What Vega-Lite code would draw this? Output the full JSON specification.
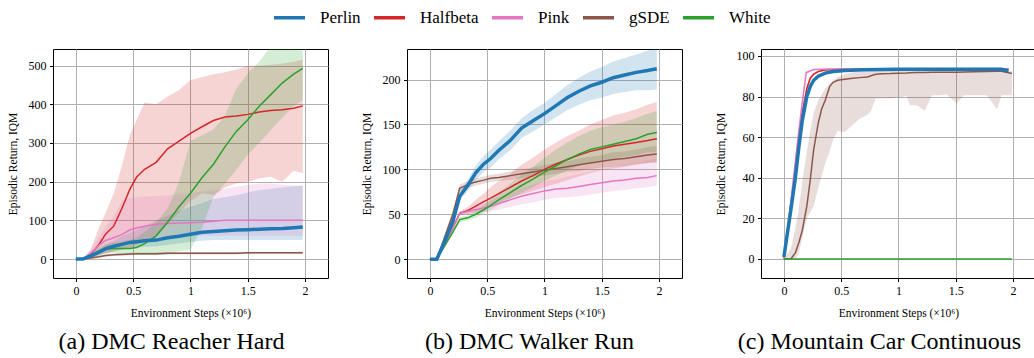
{
"$schema": "https://vega.github.io/schema/vega-lite/v6.json",
"padding": {"left": 6, "top": 0, "right": 0, "bottom": 0},
"config": {
 "font": "Liberation Serif",
 "view": {"stroke": "black", "strokeWidth": 1},
 "axis": {"grid": true, "gridColor": "#b0b0b0", "gridWidth": 1, "domain": false, "tickColor": "black", "tickSize": 3.5, "labelFontSize": 12, "labelColor": "black", "labelFont": "Liberation Serif", "labelPadding": 3.5, "titleFontSize": 11.5, "titleFontWeight": "normal", "titleColor": "black", "titleFont": "Liberation Serif", "titlePadding": 10},
 "axisX": {"titlePadding": 11},
 "title": {"font": "Liberation Serif", "fontSize": 24, "fontWeight": "normal", "color": "black"}
},
"datasets": {"d": [
{"p":"a","m":"Perlin","x":0,"y":0,"lo":0,"hi":0},
{"p":"a","m":"Perlin","x":0.06,"y":0,"lo":0,"hi":0},
{"p":"a","m":"Perlin","x":0.13,"y":8,"lo":3,"hi":12},
{"p":"a","m":"Perlin","x":0.2,"y":18,"lo":10,"hi":25},
{"p":"a","m":"Perlin","x":0.26,"y":27,"lo":15,"hi":37},
{"p":"a","m":"Perlin","x":0.33,"y":33,"lo":20,"hi":47},
{"p":"a","m":"Perlin","x":0.4,"y":38,"lo":24,"hi":58},
{"p":"a","m":"Perlin","x":0.47,"y":43,"lo":28,"hi":68},
{"p":"a","m":"Perlin","x":0.53,"y":45,"lo":30,"hi":75},
{"p":"a","m":"Perlin","x":0.6,"y":47,"lo":32,"hi":85},
{"p":"a","m":"Perlin","x":0.7,"y":49,"lo":33,"hi":100},
{"p":"a","m":"Perlin","x":0.8,"y":55,"lo":36,"hi":112},
{"p":"a","m":"Perlin","x":0.9,"y":59,"lo":40,"hi":125},
{"p":"a","m":"Perlin","x":1.0,"y":64,"lo":44,"hi":135},
{"p":"a","m":"Perlin","x":1.1,"y":69,"lo":47,"hi":145},
{"p":"a","m":"Perlin","x":1.2,"y":71,"lo":49,"hi":155},
{"p":"a","m":"Perlin","x":1.3,"y":73,"lo":49,"hi":160},
{"p":"a","m":"Perlin","x":1.4,"y":75,"lo":49,"hi":165},
{"p":"a","m":"Perlin","x":1.5,"y":76,"lo":49,"hi":172},
{"p":"a","m":"Perlin","x":1.6,"y":77,"lo":49,"hi":178},
{"p":"a","m":"Perlin","x":1.7,"y":78,"lo":49,"hi":182},
{"p":"a","m":"Perlin","x":1.8,"y":79,"lo":49,"hi":185},
{"p":"a","m":"Perlin","x":1.9,"y":81,"lo":49,"hi":188},
{"p":"a","m":"Perlin","x":1.98,"y":83,"lo":49,"hi":190},
{"p":"a","m":"Halfbeta","x":0,"y":0,"lo":0,"hi":0},
{"p":"a","m":"Halfbeta","x":0.06,"y":0,"lo":0,"hi":0},
{"p":"a","m":"Halfbeta","x":0.13,"y":12,"lo":3,"hi":25},
{"p":"a","m":"Halfbeta","x":0.2,"y":37,"lo":10,"hi":80},
{"p":"a","m":"Halfbeta","x":0.26,"y":65,"lo":15,"hi":120},
{"p":"a","m":"Halfbeta","x":0.33,"y":85,"lo":20,"hi":170},
{"p":"a","m":"Halfbeta","x":0.4,"y":130,"lo":25,"hi":240},
{"p":"a","m":"Halfbeta","x":0.47,"y":180,"lo":30,"hi":320},
{"p":"a","m":"Halfbeta","x":0.53,"y":212,"lo":35,"hi":360},
{"p":"a","m":"Halfbeta","x":0.6,"y":232,"lo":45,"hi":405},
{"p":"a","m":"Halfbeta","x":0.7,"y":250,"lo":60,"hi":400},
{"p":"a","m":"Halfbeta","x":0.8,"y":285,"lo":90,"hi":420},
{"p":"a","m":"Halfbeta","x":0.9,"y":305,"lo":120,"hi":437},
{"p":"a","m":"Halfbeta","x":1.0,"y":325,"lo":150,"hi":463},
{"p":"a","m":"Halfbeta","x":1.1,"y":342,"lo":170,"hi":470},
{"p":"a","m":"Halfbeta","x":1.2,"y":358,"lo":165,"hi":478},
{"p":"a","m":"Halfbeta","x":1.3,"y":367,"lo":185,"hi":483},
{"p":"a","m":"Halfbeta","x":1.4,"y":370,"lo":195,"hi":490},
{"p":"a","m":"Halfbeta","x":1.5,"y":374,"lo":200,"hi":500},
{"p":"a","m":"Halfbeta","x":1.6,"y":380,"lo":208,"hi":500},
{"p":"a","m":"Halfbeta","x":1.7,"y":384,"lo":213,"hi":502},
{"p":"a","m":"Halfbeta","x":1.8,"y":386,"lo":200,"hi":505},
{"p":"a","m":"Halfbeta","x":1.9,"y":390,"lo":228,"hi":510},
{"p":"a","m":"Halfbeta","x":1.98,"y":396,"lo":222,"hi":515},
{"p":"a","m":"Pink","x":0,"y":0,"lo":0,"hi":0},
{"p":"a","m":"Pink","x":0.06,"y":0,"lo":0,"hi":0},
{"p":"a","m":"Pink","x":0.13,"y":15,"lo":5,"hi":25},
{"p":"a","m":"Pink","x":0.2,"y":35,"lo":15,"hi":55},
{"p":"a","m":"Pink","x":0.26,"y":48,"lo":25,"hi":85},
{"p":"a","m":"Pink","x":0.33,"y":55,"lo":32,"hi":110},
{"p":"a","m":"Pink","x":0.4,"y":63,"lo":38,"hi":150},
{"p":"a","m":"Pink","x":0.47,"y":75,"lo":42,"hi":158},
{"p":"a","m":"Pink","x":0.53,"y":80,"lo":45,"hi":160},
{"p":"a","m":"Pink","x":0.6,"y":85,"lo":50,"hi":162},
{"p":"a","m":"Pink","x":0.7,"y":90,"lo":55,"hi":163},
{"p":"a","m":"Pink","x":0.8,"y":92,"lo":58,"hi":165},
{"p":"a","m":"Pink","x":0.9,"y":93,"lo":60,"hi":168},
{"p":"a","m":"Pink","x":1.0,"y":94,"lo":60,"hi":170},
{"p":"a","m":"Pink","x":1.1,"y":95,"lo":60,"hi":175},
{"p":"a","m":"Pink","x":1.2,"y":98,"lo":60,"hi":178},
{"p":"a","m":"Pink","x":1.3,"y":100,"lo":60,"hi":182},
{"p":"a","m":"Pink","x":1.4,"y":100,"lo":60,"hi":187},
{"p":"a","m":"Pink","x":1.5,"y":100,"lo":60,"hi":192},
{"p":"a","m":"Pink","x":1.6,"y":100,"lo":60,"hi":195},
{"p":"a","m":"Pink","x":1.7,"y":100,"lo":60,"hi":195},
{"p":"a","m":"Pink","x":1.8,"y":100,"lo":60,"hi":192},
{"p":"a","m":"Pink","x":1.9,"y":100,"lo":60,"hi":190},
{"p":"a","m":"Pink","x":1.98,"y":100,"lo":60,"hi":188},
{"p":"a","m":"gSDE","x":0,"y":0,"lo":0,"hi":0},
{"p":"a","m":"gSDE","x":0.06,"y":0,"lo":0,"hi":0},
{"p":"a","m":"gSDE","x":0.13,"y":3,"lo":1,"hi":5},
{"p":"a","m":"gSDE","x":0.2,"y":6,"lo":3,"hi":9},
{"p":"a","m":"gSDE","x":0.26,"y":9,"lo":6,"hi":12},
{"p":"a","m":"gSDE","x":0.33,"y":11,"lo":8,"hi":14},
{"p":"a","m":"gSDE","x":0.4,"y":12,"lo":9,"hi":15},
{"p":"a","m":"gSDE","x":0.47,"y":13,"lo":10,"hi":16},
{"p":"a","m":"gSDE","x":0.53,"y":14,"lo":11,"hi":17},
{"p":"a","m":"gSDE","x":0.6,"y":14,"lo":11,"hi":17},
{"p":"a","m":"gSDE","x":0.7,"y":14,"lo":11,"hi":17},
{"p":"a","m":"gSDE","x":0.8,"y":15,"lo":12,"hi":18},
{"p":"a","m":"gSDE","x":1.0,"y":15,"lo":12,"hi":18},
{"p":"a","m":"gSDE","x":1.4,"y":15,"lo":12,"hi":18},
{"p":"a","m":"gSDE","x":1.5,"y":16,"lo":13,"hi":19},
{"p":"a","m":"gSDE","x":1.98,"y":16,"lo":13,"hi":19},
{"p":"a","m":"White","x":0,"y":0,"lo":0,"hi":0},
{"p":"a","m":"White","x":0.06,"y":0,"lo":0,"hi":0},
{"p":"a","m":"White","x":0.13,"y":10,"lo":3,"hi":18},
{"p":"a","m":"White","x":0.2,"y":18,"lo":10,"hi":30},
{"p":"a","m":"White","x":0.26,"y":25,"lo":15,"hi":38},
{"p":"a","m":"White","x":0.33,"y":27,"lo":15,"hi":42},
{"p":"a","m":"White","x":0.4,"y":27,"lo":12,"hi":45},
{"p":"a","m":"White","x":0.47,"y":27,"lo":10,"hi":50},
{"p":"a","m":"White","x":0.53,"y":30,"lo":10,"hi":55},
{"p":"a","m":"White","x":0.6,"y":40,"lo":10,"hi":70},
{"p":"a","m":"White","x":0.7,"y":60,"lo":10,"hi":95},
{"p":"a","m":"White","x":0.8,"y":95,"lo":12,"hi":130},
{"p":"a","m":"White","x":0.9,"y":135,"lo":20,"hi":200},
{"p":"a","m":"White","x":1.0,"y":170,"lo":25,"hi":305},
{"p":"a","m":"White","x":1.1,"y":210,"lo":80,"hi":320},
{"p":"a","m":"White","x":1.2,"y":245,"lo":160,"hi":335},
{"p":"a","m":"White","x":1.3,"y":290,"lo":195,"hi":370},
{"p":"a","m":"White","x":1.4,"y":330,"lo":230,"hi":440},
{"p":"a","m":"White","x":1.5,"y":360,"lo":270,"hi":480},
{"p":"a","m":"White","x":1.6,"y":395,"lo":300,"hi":510},
{"p":"a","m":"White","x":1.7,"y":425,"lo":333,"hi":550},
{"p":"a","m":"White","x":1.8,"y":455,"lo":365,"hi":580},
{"p":"a","m":"White","x":1.9,"y":478,"lo":395,"hi":600},
{"p":"a","m":"White","x":1.98,"y":493,"lo":411,"hi":610},
{"p":"b","m":"Perlin","x":0,"y":0,"lo":0,"hi":0},
{"p":"b","m":"Perlin","x":0.06,"y":0,"lo":0,"hi":0},
{"p":"b","m":"Perlin","x":0.13,"y":20,"lo":18,"hi":22},
{"p":"b","m":"Perlin","x":0.2,"y":42,"lo":38,"hi":46},
{"p":"b","m":"Perlin","x":0.26,"y":70,"lo":65,"hi":75},
{"p":"b","m":"Perlin","x":0.33,"y":82,"lo":76,"hi":88},
{"p":"b","m":"Perlin","x":0.4,"y":96,"lo":88,"hi":104},
{"p":"b","m":"Perlin","x":0.47,"y":106,"lo":97,"hi":115},
{"p":"b","m":"Perlin","x":0.53,"y":112,"lo":102,"hi":122},
{"p":"b","m":"Perlin","x":0.6,"y":121,"lo":111,"hi":131},
{"p":"b","m":"Perlin","x":0.7,"y":132,"lo":121,"hi":143},
{"p":"b","m":"Perlin","x":0.8,"y":146,"lo":135,"hi":157},
{"p":"b","m":"Perlin","x":0.9,"y":154,"lo":142,"hi":166},
{"p":"b","m":"Perlin","x":1.0,"y":162,"lo":150,"hi":174},
{"p":"b","m":"Perlin","x":1.1,"y":171,"lo":158,"hi":184},
{"p":"b","m":"Perlin","x":1.2,"y":180,"lo":166,"hi":194},
{"p":"b","m":"Perlin","x":1.3,"y":187,"lo":172,"hi":202},
{"p":"b","m":"Perlin","x":1.4,"y":193,"lo":177,"hi":209},
{"p":"b","m":"Perlin","x":1.5,"y":197,"lo":180,"hi":214},
{"p":"b","m":"Perlin","x":1.6,"y":202,"lo":184,"hi":220},
{"p":"b","m":"Perlin","x":1.7,"y":205,"lo":186,"hi":224},
{"p":"b","m":"Perlin","x":1.8,"y":208,"lo":188,"hi":228},
{"p":"b","m":"Perlin","x":1.9,"y":210,"lo":188,"hi":232},
{"p":"b","m":"Perlin","x":1.98,"y":212,"lo":189,"hi":235},
{"p":"b","m":"Halfbeta","x":0,"y":0,"lo":0,"hi":0},
{"p":"b","m":"Halfbeta","x":0.06,"y":0,"lo":0,"hi":0},
{"p":"b","m":"Halfbeta","x":0.13,"y":17,"lo":15,"hi":19},
{"p":"b","m":"Halfbeta","x":0.2,"y":35,"lo":32,"hi":38},
{"p":"b","m":"Halfbeta","x":0.26,"y":51,"lo":49,"hi":53},
{"p":"b","m":"Halfbeta","x":0.33,"y":54,"lo":50,"hi":58},
{"p":"b","m":"Halfbeta","x":0.4,"y":59,"lo":52,"hi":66},
{"p":"b","m":"Halfbeta","x":0.47,"y":64,"lo":56,"hi":73},
{"p":"b","m":"Halfbeta","x":0.53,"y":68,"lo":60,"hi":80},
{"p":"b","m":"Halfbeta","x":0.6,"y":73,"lo":63,"hi":87},
{"p":"b","m":"Halfbeta","x":0.7,"y":80,"lo":68,"hi":95},
{"p":"b","m":"Halfbeta","x":0.8,"y":87,"lo":72,"hi":105},
{"p":"b","m":"Halfbeta","x":0.9,"y":93,"lo":76,"hi":113},
{"p":"b","m":"Halfbeta","x":1.0,"y":100,"lo":80,"hi":122},
{"p":"b","m":"Halfbeta","x":1.1,"y":106,"lo":84,"hi":130},
{"p":"b","m":"Halfbeta","x":1.2,"y":111,"lo":88,"hi":137},
{"p":"b","m":"Halfbeta","x":1.3,"y":116,"lo":92,"hi":143},
{"p":"b","m":"Halfbeta","x":1.4,"y":120,"lo":96,"hi":150},
{"p":"b","m":"Halfbeta","x":1.5,"y":123,"lo":99,"hi":155},
{"p":"b","m":"Halfbeta","x":1.6,"y":126,"lo":101,"hi":160},
{"p":"b","m":"Halfbeta","x":1.7,"y":128,"lo":103,"hi":163},
{"p":"b","m":"Halfbeta","x":1.8,"y":130,"lo":105,"hi":167},
{"p":"b","m":"Halfbeta","x":1.9,"y":132,"lo":107,"hi":172},
{"p":"b","m":"Halfbeta","x":1.98,"y":134,"lo":108,"hi":175},
{"p":"b","m":"Pink","x":0,"y":0,"lo":0,"hi":0},
{"p":"b","m":"Pink","x":0.06,"y":0,"lo":0,"hi":0},
{"p":"b","m":"Pink","x":0.13,"y":17,"lo":16,"hi":18},
{"p":"b","m":"Pink","x":0.2,"y":35,"lo":33,"hi":37},
{"p":"b","m":"Pink","x":0.26,"y":51,"lo":49,"hi":53},
{"p":"b","m":"Pink","x":0.33,"y":53,"lo":50,"hi":56},
{"p":"b","m":"Pink","x":0.4,"y":55,"lo":51,"hi":59},
{"p":"b","m":"Pink","x":0.47,"y":57,"lo":52,"hi":62},
{"p":"b","m":"Pink","x":0.53,"y":59,"lo":53,"hi":65},
{"p":"b","m":"Pink","x":0.6,"y":62,"lo":55,"hi":69},
{"p":"b","m":"Pink","x":0.7,"y":66,"lo":58,"hi":74},
{"p":"b","m":"Pink","x":0.8,"y":70,"lo":61,"hi":79},
{"p":"b","m":"Pink","x":0.9,"y":73,"lo":63,"hi":83},
{"p":"b","m":"Pink","x":1.0,"y":76,"lo":66,"hi":87},
{"p":"b","m":"Pink","x":1.1,"y":78,"lo":68,"hi":89},
{"p":"b","m":"Pink","x":1.2,"y":79,"lo":69,"hi":92},
{"p":"b","m":"Pink","x":1.3,"y":81,"lo":70,"hi":95},
{"p":"b","m":"Pink","x":1.4,"y":83,"lo":72,"hi":98},
{"p":"b","m":"Pink","x":1.5,"y":85,"lo":74,"hi":100},
{"p":"b","m":"Pink","x":1.6,"y":87,"lo":76,"hi":103},
{"p":"b","m":"Pink","x":1.7,"y":88,"lo":77,"hi":105},
{"p":"b","m":"Pink","x":1.8,"y":90,"lo":79,"hi":107},
{"p":"b","m":"Pink","x":1.9,"y":91,"lo":80,"hi":110},
{"p":"b","m":"Pink","x":1.98,"y":93,"lo":82,"hi":112},
{"p":"b","m":"gSDE","x":0,"y":0,"lo":0,"hi":0},
{"p":"b","m":"gSDE","x":0.06,"y":0,"lo":0,"hi":0},
{"p":"b","m":"gSDE","x":0.13,"y":25,"lo":22,"hi":28},
{"p":"b","m":"gSDE","x":0.2,"y":50,"lo":46,"hi":54},
{"p":"b","m":"gSDE","x":0.26,"y":79,"lo":75,"hi":83},
{"p":"b","m":"gSDE","x":0.33,"y":83,"lo":79,"hi":87},
{"p":"b","m":"gSDE","x":0.4,"y":86,"lo":82,"hi":90},
{"p":"b","m":"gSDE","x":0.47,"y":88,"lo":84,"hi":92},
{"p":"b","m":"gSDE","x":0.53,"y":90,"lo":86,"hi":94},
{"p":"b","m":"gSDE","x":0.6,"y":91,"lo":87,"hi":95},
{"p":"b","m":"gSDE","x":0.7,"y":93,"lo":88,"hi":98},
{"p":"b","m":"gSDE","x":0.8,"y":95,"lo":90,"hi":100},
{"p":"b","m":"gSDE","x":0.9,"y":97,"lo":92,"hi":102},
{"p":"b","m":"gSDE","x":1.0,"y":99,"lo":93,"hi":105},
{"p":"b","m":"gSDE","x":1.1,"y":101,"lo":95,"hi":107},
{"p":"b","m":"gSDE","x":1.2,"y":103,"lo":97,"hi":109},
{"p":"b","m":"gSDE","x":1.3,"y":105,"lo":98,"hi":112},
{"p":"b","m":"gSDE","x":1.4,"y":107,"lo":100,"hi":114},
{"p":"b","m":"gSDE","x":1.5,"y":109,"lo":102,"hi":116},
{"p":"b","m":"gSDE","x":1.6,"y":111,"lo":103,"hi":119},
{"p":"b","m":"gSDE","x":1.7,"y":112,"lo":104,"hi":120},
{"p":"b","m":"gSDE","x":1.8,"y":114,"lo":106,"hi":122},
{"p":"b","m":"gSDE","x":1.9,"y":116,"lo":107,"hi":125},
{"p":"b","m":"gSDE","x":1.98,"y":117,"lo":108,"hi":126},
{"p":"b","m":"White","x":0,"y":0,"lo":0,"hi":0},
{"p":"b","m":"White","x":0.06,"y":0,"lo":0,"hi":0},
{"p":"b","m":"White","x":0.13,"y":15,"lo":13,"hi":17},
{"p":"b","m":"White","x":0.2,"y":30,"lo":28,"hi":32},
{"p":"b","m":"White","x":0.26,"y":44,"lo":41,"hi":47},
{"p":"b","m":"White","x":0.33,"y":46,"lo":43,"hi":49},
{"p":"b","m":"White","x":0.4,"y":50,"lo":46,"hi":54},
{"p":"b","m":"White","x":0.47,"y":55,"lo":51,"hi":60},
{"p":"b","m":"White","x":0.53,"y":60,"lo":55,"hi":66},
{"p":"b","m":"White","x":0.6,"y":66,"lo":60,"hi":74},
{"p":"b","m":"White","x":0.7,"y":74,"lo":67,"hi":84},
{"p":"b","m":"White","x":0.8,"y":82,"lo":74,"hi":94},
{"p":"b","m":"White","x":0.9,"y":89,"lo":80,"hi":103},
{"p":"b","m":"White","x":1.0,"y":97,"lo":87,"hi":113},
{"p":"b","m":"White","x":1.1,"y":104,"lo":93,"hi":122},
{"p":"b","m":"White","x":1.2,"y":111,"lo":99,"hi":130},
{"p":"b","m":"White","x":1.3,"y":117,"lo":104,"hi":137},
{"p":"b","m":"White","x":1.4,"y":122,"lo":108,"hi":143},
{"p":"b","m":"White","x":1.5,"y":125,"lo":110,"hi":147},
{"p":"b","m":"White","x":1.6,"y":128,"lo":112,"hi":150},
{"p":"b","m":"White","x":1.7,"y":131,"lo":114,"hi":153},
{"p":"b","m":"White","x":1.8,"y":134,"lo":116,"hi":157},
{"p":"b","m":"White","x":1.9,"y":139,"lo":119,"hi":162},
{"p":"b","m":"White","x":1.98,"y":141,"lo":119,"hi":165},
{"p":"c","m":"Perlin","x":0,"y":1,"lo":0,"hi":1.5},
{"p":"c","m":"Perlin","x":0.06,"y":24,"lo":21,"hi":27},
{"p":"c","m":"Perlin","x":0.1,"y":40,"lo":37,"hi":43},
{"p":"c","m":"Perlin","x":0.13,"y":55,"lo":52,"hi":58},
{"p":"c","m":"Perlin","x":0.16,"y":68,"lo":65,"hi":71},
{"p":"c","m":"Perlin","x":0.2,"y":80,"lo":78,"hi":82},
{"p":"c","m":"Perlin","x":0.23,"y":85,"lo":83,"hi":87},
{"p":"c","m":"Perlin","x":0.26,"y":88,"lo":87,"hi":89},
{"p":"c","m":"Perlin","x":0.3,"y":90,"lo":89,"hi":91},
{"p":"c","m":"Perlin","x":0.36,"y":91.5,"lo":91,"hi":92},
{"p":"c","m":"Perlin","x":0.43,"y":92.3,"lo":92,"hi":92.6},
{"p":"c","m":"Perlin","x":0.53,"y":92.8,"lo":92.5,"hi":93},
{"p":"c","m":"Perlin","x":0.7,"y":93.2,"lo":93,"hi":93.4},
{"p":"c","m":"Perlin","x":1.0,"y":93.4,"lo":93.2,"hi":93.6},
{"p":"c","m":"Perlin","x":1.5,"y":93.4,"lo":93.2,"hi":93.6},
{"p":"c","m":"Perlin","x":1.9,"y":93.4,"lo":93.2,"hi":93.6},
{"p":"c","m":"Perlin","x":1.96,"y":92.6,"lo":92.3,"hi":92.9},
{"p":"c","m":"Halfbeta","x":0,"y":0,"lo":0,"hi":0.5},
{"p":"c","m":"Halfbeta","x":0.06,"y":25,"lo":23,"hi":27},
{"p":"c","m":"Halfbeta","x":0.1,"y":45,"lo":43,"hi":47},
{"p":"c","m":"Halfbeta","x":0.13,"y":60,"lo":58,"hi":62},
{"p":"c","m":"Halfbeta","x":0.16,"y":72,"lo":70,"hi":74},
{"p":"c","m":"Halfbeta","x":0.2,"y":84,"lo":82,"hi":86},
{"p":"c","m":"Halfbeta","x":0.23,"y":89,"lo":88,"hi":90},
{"p":"c","m":"Halfbeta","x":0.26,"y":91,"lo":90.5,"hi":91.5},
{"p":"c","m":"Halfbeta","x":0.3,"y":92.3,"lo":92,"hi":92.6},
{"p":"c","m":"Halfbeta","x":0.36,"y":93,"lo":92.8,"hi":93.2},
{"p":"c","m":"Halfbeta","x":0.5,"y":93.4,"lo":93.2,"hi":93.6},
{"p":"c","m":"Halfbeta","x":1.0,"y":93.5,"lo":93.3,"hi":93.7},
{"p":"c","m":"Halfbeta","x":1.96,"y":93.5,"lo":93.3,"hi":93.7},
{"p":"c","m":"Pink","x":0,"y":0,"lo":0,"hi":0.5},
{"p":"c","m":"Pink","x":0.06,"y":28,"lo":26,"hi":30},
{"p":"c","m":"Pink","x":0.1,"y":48,"lo":46,"hi":50},
{"p":"c","m":"Pink","x":0.13,"y":63,"lo":61,"hi":65},
{"p":"c","m":"Pink","x":0.16,"y":77,"lo":75,"hi":79},
{"p":"c","m":"Pink","x":0.195,"y":91.8,"lo":91,"hi":92.5},
{"p":"c","m":"Pink","x":0.26,"y":93.3,"lo":93,"hi":93.6},
{"p":"c","m":"Pink","x":0.4,"y":93.6,"lo":93.4,"hi":93.8},
{"p":"c","m":"Pink","x":1.0,"y":93.6,"lo":93.4,"hi":93.8},
{"p":"c","m":"Pink","x":1.96,"y":93.6,"lo":93.4,"hi":93.8},
{"p":"c","m":"gSDE","x":0,"y":0,"lo":0,"hi":0},
{"p":"c","m":"gSDE","x":0.06,"y":0,"lo":0,"hi":5},
{"p":"c","m":"gSDE","x":0.1,"y":3,"lo":0,"hi":15},
{"p":"c","m":"gSDE","x":0.13,"y":8,"lo":3,"hi":25},
{"p":"c","m":"gSDE","x":0.16,"y":14,"lo":10,"hi":38},
{"p":"c","m":"gSDE","x":0.2,"y":26,"lo":20,"hi":53},
{"p":"c","m":"gSDE","x":0.23,"y":39,"lo":23,"hi":63},
{"p":"c","m":"gSDE","x":0.26,"y":54,"lo":26,"hi":72},
{"p":"c","m":"gSDE","x":0.3,"y":67,"lo":35,"hi":78},
{"p":"c","m":"gSDE","x":0.33,"y":74,"lo":41,"hi":81},
{"p":"c","m":"gSDE","x":0.36,"y":78,"lo":47,"hi":84},
{"p":"c","m":"gSDE","x":0.4,"y":85,"lo":53,"hi":86},
{"p":"c","m":"gSDE","x":0.43,"y":87,"lo":59,"hi":88},
{"p":"c","m":"gSDE","x":0.47,"y":88,"lo":63,"hi":89.6},
{"p":"c","m":"gSDE","x":0.53,"y":88.5,"lo":62.5,"hi":91},
{"p":"c","m":"gSDE","x":0.6,"y":89,"lo":66,"hi":92},
{"p":"c","m":"gSDE","x":0.66,"y":89.3,"lo":69,"hi":92.3},
{"p":"c","m":"gSDE","x":0.73,"y":89.6,"lo":71,"hi":92.5},
{"p":"c","m":"gSDE","x":0.76,"y":90.2,"lo":73,"hi":92.6},
{"p":"c","m":"gSDE","x":0.8,"y":91,"lo":79,"hi":92.7},
{"p":"c","m":"gSDE","x":0.86,"y":91.2,"lo":79.2,"hi":92.8},
{"p":"c","m":"gSDE","x":0.93,"y":91.3,"lo":79,"hi":92.8},
{"p":"c","m":"gSDE","x":1.0,"y":91.5,"lo":79.5,"hi":92.9},
{"p":"c","m":"gSDE","x":1.07,"y":91.6,"lo":80.2,"hi":93},
{"p":"c","m":"gSDE","x":1.1,"y":91.7,"lo":75.7,"hi":93},
{"p":"c","m":"gSDE","x":1.16,"y":91.8,"lo":75.7,"hi":93},
{"p":"c","m":"gSDE","x":1.23,"y":91.8,"lo":73,"hi":93},
{"p":"c","m":"gSDE","x":1.29,"y":91.9,"lo":80.6,"hi":93},
{"p":"c","m":"gSDE","x":1.36,"y":91.9,"lo":80.6,"hi":93},
{"p":"c","m":"gSDE","x":1.42,"y":92,"lo":81,"hi":93},
{"p":"c","m":"gSDE","x":1.51,"y":92,"lo":76.5,"hi":93},
{"p":"c","m":"gSDE","x":1.57,"y":92.1,"lo":80.6,"hi":93},
{"p":"c","m":"gSDE","x":1.66,"y":92.2,"lo":80.6,"hi":93},
{"p":"c","m":"gSDE","x":1.77,"y":92.3,"lo":80.6,"hi":93},
{"p":"c","m":"gSDE","x":1.86,"y":92.4,"lo":73.7,"hi":93},
{"p":"c","m":"gSDE","x":1.9,"y":92.4,"lo":80.6,"hi":93},
{"p":"c","m":"gSDE","x":1.99,"y":91.3,"lo":80.6,"hi":92.5},
{"p":"c","m":"White","x":0,"y":0,"lo":0,"hi":0},
{"p":"c","m":"White","x":1.0,"y":0,"lo":0,"hi":0},
{"p":"c","m":"White","x":1.99,"y":0,"lo":0,"hi":0}
]},
"data": {"name": "d"},
"spacing": 79,
"bounds": "flush",
"resolve": {"scale": {"x": "independent", "y": "independent"}},
"hconcat": [
 {
  "width": 275, "height": 229,
  "transform": [{"filter": "datum.p == 'a'"}],
  "title": {"text": "(a) DMC Reacher Hard", "orient": "bottom", "anchor": "middle", "frame": "group", "dx": -19, "offset": 11},
  "encoding": {"x": {"field": "x", "type": "quantitative", "scale": {"domain": [-0.2, 2.2], "nice": false, "zero": false}, "axis": {"values": [0, 0.5, 1, 1.5, 2], "format": "~g", "title": "Environment Steps (×10⁶)"}}},
  "layer": [
   {"mark": {"type": "area", "opacity": 0.2, "clip": true},
    "encoding": {"y": {"field": "lo", "type": "quantitative", "scale": {"domain": [-49, 543], "nice": false, "zero": false}, "axis": {"values": [0, 100, 200, 300, 400, 500], "title": "Episodic Return, IQM"}}, "y2": {"field": "hi"},
     "fill": {"field": "m", "type": "nominal", "scale": {"domain": ["White", "gSDE", "Pink", "Halfbeta", "Perlin"], "range": ["#2ca02c", "#8c564b", "#e377c2", "#d62728", "#1f77b4"]}, "legend": null}}},
   {"transform": [{"filter": "datum.m != 'Perlin'"}], "mark": {"type": "line", "strokeWidth": 1.5, "clip": true},
    "encoding": {"y": {"field": "y", "type": "quantitative"}, "color": {"field": "m", "type": "nominal", "scale": {"domain": ["Perlin", "Halfbeta", "Pink", "gSDE", "White"], "range": ["#1f77b4", "#d62728", "#e377c2", "#8c564b", "#2ca02c"]},
     "legend": {"title": null, "orient": "none", "legendX": 219, "legendY": -49, "direction": "horizontal", "columns": 5, "symbolType": "stroke", "symbolSize": 961, "symbolStrokeWidth": 3.5, "labelFontSize": 17, "labelFont": "Liberation Serif", "labelColor": "black", "columnPadding": 6, "labelOffset": 13, "padding": 0}}}},
   {"transform": [{"filter": "datum.m == 'Perlin'"}], "mark": {"type": "line", "strokeWidth": 3.5, "clip": true},
    "encoding": {"y": {"field": "y", "type": "quantitative"}, "color": {"field": "m", "type": "nominal"}}}
  ]
 },
 {
  "width": 275, "height": 229,
  "transform": [{"filter": "datum.p == 'b'"}],
  "title": {"text": "(b) DMC Walker Run", "orient": "bottom", "anchor": "middle", "frame": "group", "dx": -15, "offset": 11},
  "encoding": {"x": {"field": "x", "type": "quantitative", "scale": {"domain": [-0.2, 2.2], "nice": false, "zero": false}, "axis": {"values": [0, 0.5, 1, 1.5, 2], "format": "~g", "title": "Environment Steps (×10⁶)"}}},
  "layer": [
   {"mark": {"type": "area", "opacity": 0.2, "clip": true},
    "encoding": {"y": {"field": "lo", "type": "quantitative", "scale": {"domain": [-21, 234], "nice": false, "zero": false}, "axis": {"values": [0, 50, 100, 150, 200], "title": "Episodic Return, IQM"}}, "y2": {"field": "hi"},
     "fill": {"field": "m", "type": "nominal", "legend": null}}},
   {"transform": [{"filter": "datum.m != 'Perlin'"}], "mark": {"type": "line", "strokeWidth": 1.5, "clip": true},
    "encoding": {"y": {"field": "y", "type": "quantitative"}, "color": {"field": "m", "type": "nominal"}}},
   {"transform": [{"filter": "datum.m == 'Perlin'"}], "mark": {"type": "line", "strokeWidth": 3.5, "clip": true},
    "encoding": {"y": {"field": "y", "type": "quantitative"}, "color": {"field": "m", "type": "nominal"}}}
  ]
 },
 {
  "width": 275, "height": 229,
  "transform": [{"filter": "datum.p == 'c'"}],
  "title": {"text": "(c) Mountain Car Continuous", "orient": "bottom", "anchor": "middle", "frame": "group", "dx": -19, "offset": 11},
  "encoding": {"x": {"field": "x", "type": "quantitative", "scale": {"domain": [-0.2, 2.2], "nice": false, "zero": false}, "axis": {"values": [0, 0.5, 1, 1.5, 2], "format": "~g", "title": "Environment Steps (×10⁶)"}}},
  "layer": [
   {"mark": {"type": "area", "opacity": 0.2, "clip": true},
    "encoding": {"y": {"field": "lo", "type": "quantitative", "scale": {"domain": [-9.4, 103.4], "nice": false, "zero": false}, "axis": {"values": [0, 20, 40, 60, 80, 100], "title": "Episodic Return, IQM"}}, "y2": {"field": "hi"},
     "fill": {"field": "m", "type": "nominal", "legend": null}}},
   {"transform": [{"filter": "datum.m != 'Perlin'"}], "mark": {"type": "line", "strokeWidth": 1.5, "clip": true},
    "encoding": {"y": {"field": "y", "type": "quantitative"}, "color": {"field": "m", "type": "nominal"}}},
   {"transform": [{"filter": "datum.m == 'Perlin'"}], "mark": {"type": "line", "strokeWidth": 3.5, "clip": true},
    "encoding": {"y": {"field": "y", "type": "quantitative"}, "color": {"field": "m", "type": "nominal"}}}
  ]
 }
]
}
